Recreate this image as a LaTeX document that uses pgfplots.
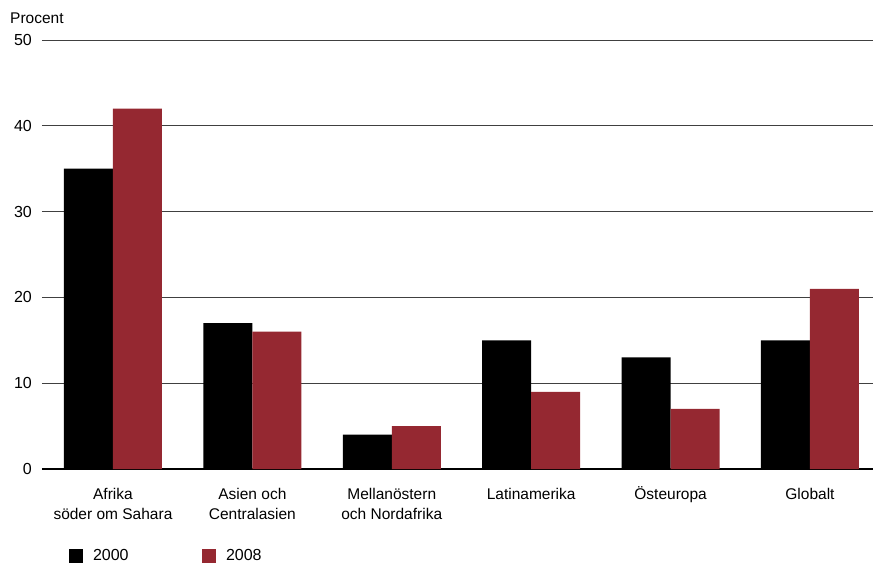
\documentclass[border=0pt]{standalone}
\usepackage{pgfplots}
\pgfplotsset{compat=1.18}
\usepackage{fontspec}
\setmainfont{Liberation Sans}
\definecolor{bred}{HTML}{952831}
\begin{document}
\begin{tikzpicture}[x=1pt,y=1pt]
\useasboundingbox (0,0) rectangle (873,565);
\begin{axis}[
  at={(42pt,96pt)}, anchor=south west,
  scale only axis, width=831pt, height=429pt,
  ybar=0pt, bar width=49pt,
  xmin=-0.509, xmax=5.452, ymin=0, ymax=50,
  ytick={0,10,20,30,40,50},
  xtick={0,1,2,3,4,5},
  xticklabels={{\strut Afrika\\söder om Sahara},{\strut Asien och\\Centralasien},{\strut Mellanöstern\\och Nordafrika},{\strut Latinamerika},{\strut Östeuropa},{\strut Globalt}},
  xticklabel style={align=center, anchor=north, inner sep=0pt, yshift=-16pt, font=\fontsize{15.5}{20}\selectfont},
  yticklabel style={anchor=east, inner sep=0pt, xshift=-10pt, font=\fontsize{16}{16}\selectfont},
  /pgf/number format/assume math mode=true,
  major tick length=0pt,
  ymajorgrids, major grid style={black!75, line width=1pt},
  axis x line*=bottom, axis y line*=left,
  x axis line style={black, line width=1.2pt, -},
  y axis line style={draw=none},
  legend style={draw=none, fill=none, inner sep=0pt, outer sep=0pt,
    at={(axis description cs:0.0325,-0.2028)}, anchor=west,
    legend columns=2, column sep=0pt,
    nodes={inner sep=0pt, outer sep=0pt, text width=109pt, align=left, font=\fontsize{16}{16}\selectfont}},
  legend image code/.code={\fill[#1] (0pt,-7pt) rectangle (14pt,7pt); \path[draw=none,fill=none] (0pt,-7pt) rectangle (24pt,7pt);},
  clip=false,
]
\addplot[fill=black, draw=none] coordinates {(0,35) (1,17) (2,4) (3,15) (4,13) (5,15)};
\addplot[fill=bred, draw=none] coordinates {(0,42) (1,16) (2,5) (3,9) (4,7) (5,21)};
\legend{2000,2008}
\end{axis}
\node[anchor=base west, inner sep=0pt, font=\fontsize{15.5}{16}\selectfont] at (10,541) {Procent};
\end{tikzpicture}
\end{document}
